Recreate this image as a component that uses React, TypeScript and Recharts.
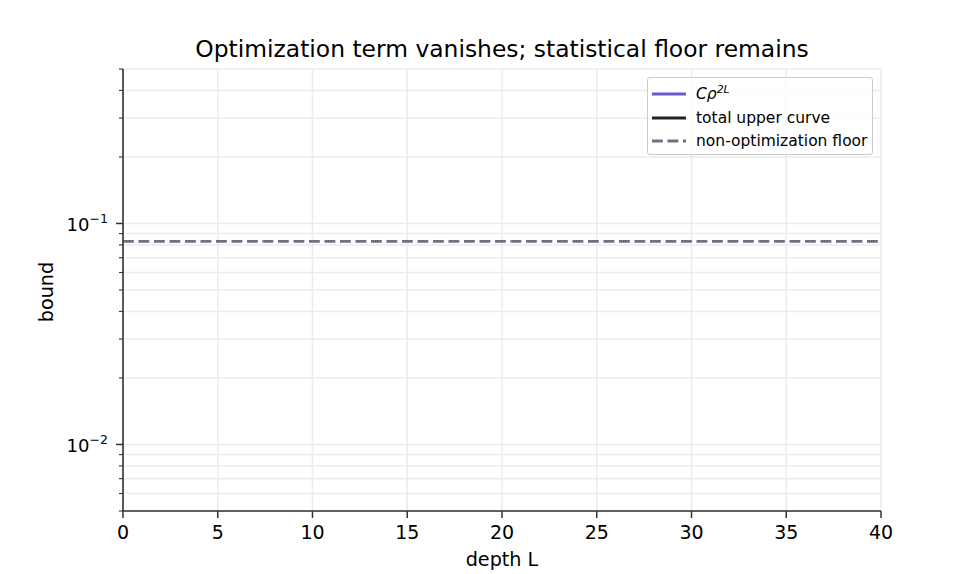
import { LineChart, Line, XAxis, YAxis, CartesianGrid, Legend } from "recharts";

// depth L sampled along the x axis
const depth = [0, 5, 10, 15, 20, 25, 30, 35, 40];
// optimization term C*rho^(2L): not visible inside the plotted range
const optTerm = [null, null, null, null, null, null, null, null, null];
// total upper curve: also not visible inside the plotted range
const totalUpper = [null, null, null, null, null, null, null, null, null];
// non-optimization (statistical) floor
const floorBound = [0.083, 0.083, 0.083, 0.083, 0.083, 0.083, 0.083, 0.083, 0.083];

const xTicks = [0, 5, 10, 15, 20, 25, 30, 35, 40];
const yMajor = [0.01, 0.1];
const yMinor = [0.005, 0.006, 0.007, 0.008, 0.009, 0.02, 0.03, 0.04, 0.05, 0.06, 0.07, 0.08, 0.09, 0.2, 0.3, 0.4, 0.5];
const yMajorLabels: Record<string, string> = { "0.01": "\u22122", "0.1": "\u22121" };

const yTicks = [...yMajor, ...yMinor].sort((a, b) => a - b);

const data = depth.map((L, i) => ({
  L,
  opt: optTerm[i],
  total: totalUpper[i],
  floor: floorBound[i],
}));

const FONT = "DejaVu Sans, sans-serif";
const SPINE = "#333333";
const PURPLE = "#6a5acd";
const BLACK = "#1f2328";
const GRAY = "#6b7280";

const YTick = (props: any) => {
  const { x, y, payload } = props;
  const v = payload.value;
  const major = yMajor.some((m) => Math.abs(m - v) < 1e-9);
  const exp = yMajorLabels[String(v)];
  return (
    <g>
      <line x1={x - (major ? 7 : 4)} x2={x} y1={y} y2={y} stroke={SPINE} strokeWidth={major ? 1.5 : 1.1} />
      {major && (
        <text x={x - 15} y={y + 8} textAnchor="end" fontSize={18} fontFamily={FONT} fill="#000">
          10
          <tspan dy={-8} fontSize={12.6}>{exp}</tspan>
        </text>
      )}
    </g>
  );
};

const XTick = (props: any) => {
  const { x, y, payload } = props;
  return (
    <g>
      <line x1={x} x2={x} y1={y} y2={y + 7} stroke={SPINE} strokeWidth={1.5} />
      <text x={x} y={y + 28} textAnchor="middle" fontSize={19} fontFamily={FONT} fill="#000">
        {payload.value}
      </text>
    </g>
  );
};

const LegendBox = () => {
  const rows = [
    { color: PURPLE, dash: undefined, label: "rho" },
    { color: BLACK, dash: undefined, label: "total upper curve" },
    { color: GRAY, dash: "10.8 4.7", label: "non-optimization floor" },
  ];
  return (
    <div
      style={{
        width: 226,
        height: 78,
        border: "1px solid #cccccc",
        borderRadius: 3,
        background: "rgba(255,255,255,0.8)",
        boxSizing: "border-box",
        fontFamily: FONT,
        fontSize: 15.5,
        color: "#000",
        position: "relative",
      }}
    >
      {rows.map((r, i) => (
        <div key={i} style={{ position: "absolute", left: 4, top: 5 + i * 23.5, height: 22, display: "flex", alignItems: "center", whiteSpace: "nowrap" }}>
          <svg width={34} height={22} style={{ marginRight: 10 }}>
            <line x1={0} x2={34} y1={11} y2={11} stroke={r.color} strokeWidth={2.9} strokeDasharray={r.dash} />
          </svg>
          {i === 0 ? (
            <span>
              <span style={{ fontStyle: "italic" }}>Cρ</span>
              <span style={{ fontStyle: "italic", fontSize: 10.8, position: "relative", top: -6 }}>2L</span>
            </span>
          ) : (
            <span>{r.label}</span>
          )}
        </div>
      ))}
    </div>
  );
};

export default function App() {
  return (
    <div style={{ position: "absolute", left: 0, top: 0, width: 980, height: 574, background: "#fff" }}>
      <LineChart width={980} height={574} data={data} margin={{ top: 69, right: 99, bottom: 0, left: 0 }}>
        <CartesianGrid stroke="#ebebeb" strokeWidth={1.5} horizontalValues={yTicks} verticalValues={xTicks} />
        <XAxis
          dataKey="L"
          type="number"
          domain={[0, 40]}
          ticks={xTicks}
          height={63}
          axisLine={{ stroke: SPINE, strokeWidth: 1.6 }}
          tickLine={false}
          tickSize={0}
          tickMargin={0}
          tick={<XTick />}
          interval={0}
        />
        <YAxis
          scale="log"
          domain={[0.005, 0.5]}
          allowDataOverflow
          ticks={yTicks}
          width={123}
          axisLine={{ stroke: SPINE, strokeWidth: 1.6 }}
          tickLine={false}
          tickSize={0}
          tickMargin={0}
          tick={<YTick />}
          interval={0}
        />
        <Line dataKey="opt" stroke={PURPLE} strokeWidth={2.9} dot={false} isAnimationActive={false} />
        <Line dataKey="total" stroke={BLACK} strokeWidth={2.9} dot={false} isAnimationActive={false} />
        <Line dataKey="floor" stroke={GRAY} strokeWidth={2.9} strokeDasharray="10.8 4.7" dot={false} isAnimationActive={false} />
        <Legend
          layout="horizontal"
          align="center"
          verticalAlign="middle"
          content={<LegendBox />}
          wrapperStyle={{ position: "absolute", left: 647, top: 77, width: 226, height: 78 }}
        />
        <text x={502} y={57} textAnchor="middle" fontSize={23.4} fontFamily={FONT} fill="#000">
          Optimization term vanishes; statistical floor remains
        </text>
        <text x={502} y={566} textAnchor="middle" fontSize={19.2} fontFamily={FONT} fill="#000">
          depth L
        </text>
        <text x={53} y={292} textAnchor="middle" fontSize={19.2} fontFamily={FONT} fill="#000" transform="rotate(-90 53 292)">
          bound
        </text>
      </LineChart>
    </div>
  );
}
